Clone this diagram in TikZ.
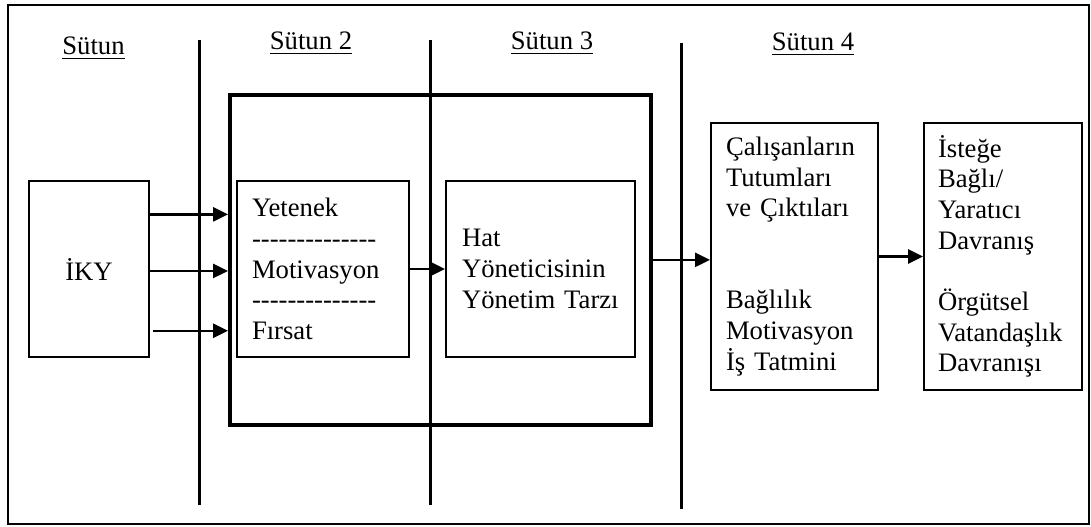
\documentclass[tikz,border=0pt]{standalone}
\usepackage{fontspec}
\setmainfont{Liberation Serif}
\usepackage{tikz}
\usetikzlibrary{arrows.meta,calc}
\newcommand{\hy}{\mbox{-}}
\newcommand{\dashrow}{\hy\hy\hy\hy\hy\hy\hy\hy\hy\hy\hy\hy\hy\hy}

\begin{document}
\begin{tikzpicture}[x=0.45pt,y=-0.45pt,font=\fontsize{12}{13.8}\selectfont]
\useasboundingbox (0,0) rectangle (1091,527);
\tikzset{box/.style={draw,line width=0.9pt,inner ysep=0pt,align=left}}
\tikzset{arr/.style={-{Triangle[length=6.7pt,width=6.3pt]},line width=1.1pt}}
% frame
\draw[line width=0.9pt] (8,5) rectangle (1089,524);
% column headings and dividers
\foreach \x/\y/\name [count=\i] in {93.5/55/{Sütun}, 311/50/{Sütun 2}, 552/50/{Sütun 3}, 813/51/{Sütun 4}}
  \node[anchor=base,inner sep=0pt] (col\i) at (\x,\y) {\underline{\name}};
\foreach \x/\yt/\yb in {199/40/505, 430/40/505, 681/43/509}
  \draw[line width=1.35pt] (\x,\yt) -- (\x,\yb);
% thick frame round columns 2 and 3
\node[draw,line width=1.8pt,minimum width=189.45pt,minimum height=148.5pt] (zone) at (440.5,260) {};
% boxes
\node[box,align=center,minimum width=54pt,minimum height=79.2pt] (iky) at (89,269) {İKY};
\node[box,minimum width=77.4pt,minimum height=79.2pt,inner xsep=6.75pt,text width=63.9pt] (yet) at (323,269)
  {Yetenek\\ \dashrow\\ Motivasyon\\ \dashrow\\ Fırsat};
\node[box,minimum width=85.05pt,minimum height=79.2pt,inner xsep=7.2pt,text width=70.65pt] (hat) at (540.5,269)
  {Hat\\ Yöneticisinin\\ Yönetim Tarzı};
\node[box,minimum width=75.15pt,minimum height=120.15pt,inner xsep=6.75pt,text width=61.65pt] (cal) at (794.5,256.5)
  {Çalışanların\\ Tutumları\\ ve Çıktıları\\[27.6pt] Bağlılık\\ Motivasyon\\ İş Tatmini};
\node[box,minimum width=71.1pt,minimum height=120.15pt,inner xsep=6.3pt,text width=58.5pt] (ist) at (1003,256.5)
  {İsteğe\\ Bağlı/\\ Yaratıcı\\ Davranış\\[13.8pt] Örgütsel\\ Vatandaşlık\\ Davranışı};
% arrows
\foreach \f [count=\i] in {0.193,0.511,0.847}
  \coordinate (in\i) at ($(iky.north east)!\f!(iky.south east)$);
\draw[arr] (in1) -- (zone.west |- in1);
\draw[arr] (in2) -- (zone.west |- in2);
\draw[arr] ([xshift=1.5pt]in3) -- (zone.west |- in3);
\draw[arr] (yet.east) -- (hat.west);
\draw[arr] ([yshift=-1.5pt]zone.east |- cal.west) -- ([yshift=-1.5pt]cal.west);
\draw[arr] (cal.east) -- (ist.west);
\end{tikzpicture}
\end{document}
